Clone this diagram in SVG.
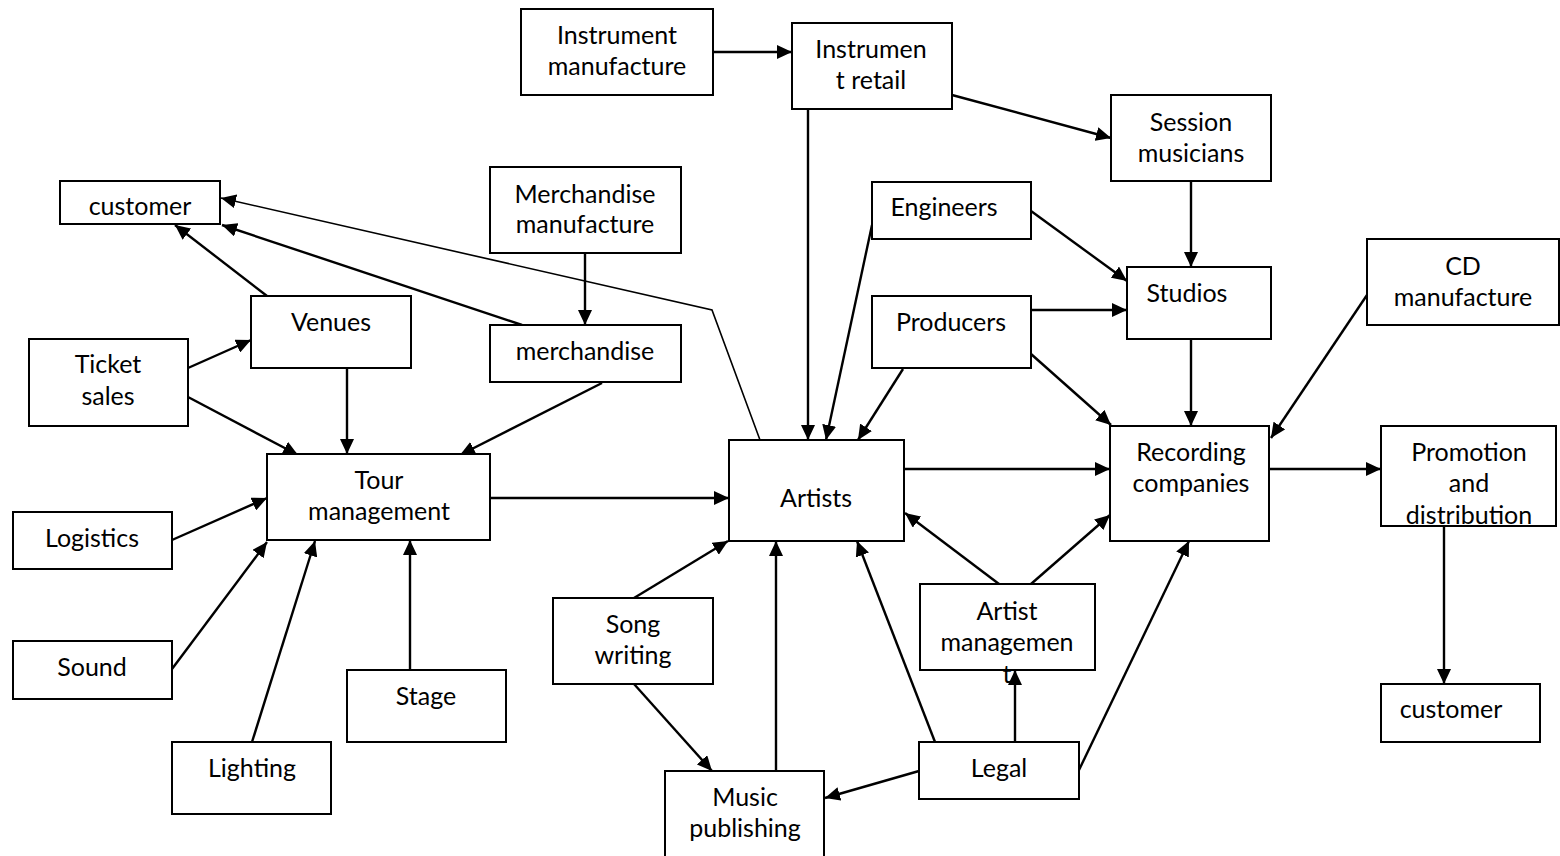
<svg xmlns="http://www.w3.org/2000/svg" width="1560" height="856" viewBox="0 0 1560 856">
<style>
rect.b{fill:#fff;stroke:#000;stroke-width:2}
text{font-family:Lato,"Open Sans","Liberation Sans",sans-serif;font-size:25px;fill:#000;text-anchor:middle}
.c line,.c polyline{stroke:#000;stroke-width:2.4;fill:none}
.c .thin{stroke-width:1.6}
.c .a{marker-end:url(#ah)}
</style>
<defs>
<marker id="ah" markerUnits="userSpaceOnUse" markerWidth="16" markerHeight="14" refX="15" refY="7" orient="auto" viewBox="0 0 16 14">
<path d="M0,0 L15,7 L0,14 Z" fill="#000"/>
</marker>
</defs>
<rect width="1560" height="856" fill="#fff"/>
<g class="c" id="connectors">
<line class="a" x1="713" y1="52" x2="792" y2="52"/>
<line class="a" x1="952" y1="95" x2="1111" y2="138"/>
<line class="a" x1="808" y1="109" x2="808" y2="440"/>
<line class="a" x1="1191" y1="181" x2="1191" y2="267"/>
<line class="a" x1="1031" y1="211" x2="1127" y2="281"/>
<line class="a" x1="1031" y1="310" x2="1127" y2="310"/>
<line class="a" x1="1031" y1="354" x2="1111" y2="425"/>
<line class="a" x1="1191" y1="339" x2="1191" y2="426"/>
<line class="a" x1="1367" y1="295" x2="1271" y2="438"/>
<line class="a" x1="1269" y1="469" x2="1381" y2="469"/>
<line class="a" x1="1444" y1="526" x2="1444" y2="684"/>
<line class="a" x1="872" y1="225" x2="826" y2="440"/>
<line class="a" x1="903" y1="369" x2="858" y2="440"/>
<line class="a" x1="904" y1="469" x2="1110" y2="469"/>
<line class="a" x1="490" y1="498" x2="729" y2="498"/>
<line class="a" x1="634" y1="598" x2="728" y2="541"/>
<line class="a" x1="634" y1="684" x2="712" y2="771"/>
<line class="a" x1="776" y1="771" x2="776" y2="541"/>
<line class="a" x1="919" y1="771" x2="825" y2="798"/>
<line class="a" x1="935" y1="742" x2="857" y2="541"/>
<line class="a" x1="1015" y1="742" x2="1015" y2="670"/>
<line class="a" x1="999" y1="584" x2="905" y2="513"/>
<line class="a" x1="1031" y1="584" x2="1110" y2="515"/>
<line class="a" x1="1079" y1="770" x2="1189" y2="541"/>
<polyline class="a thin" points="760,440 712,310 221,198"/>
<line class="a" x1="522" y1="325" x2="222" y2="225"/>
<line class="a" x1="267" y1="296" x2="175" y2="225"/>
<line class="a" x1="585" y1="253" x2="585" y2="325"/>
<line class="a" x1="602" y1="383" x2="460" y2="455"/>
<line class="a" x1="188" y1="368" x2="251" y2="340"/>
<line class="a" x1="188" y1="397" x2="298" y2="455"/>
<line class="a" x1="347" y1="368" x2="347" y2="454"/>
<line class="a" x1="172" y1="540" x2="267" y2="498"/>
<line class="a" x1="172" y1="669" x2="267" y2="542"/>
<line class="a" x1="252" y1="742" x2="315" y2="541"/>
<line class="a" x1="410" y1="670" x2="410" y2="540"/>
</g>
<g id="customer-left"><rect class="b" x="60" y="181" width="160" height="43"/><text x="140" y="215">customer</text></g>
<g id="venues"><rect class="b" x="251" y="296" width="160" height="72"/><text x="331" y="331">Venues</text></g>
<g id="ticket-sales"><rect class="b" x="29" y="339" width="159" height="87"/><text x="108" y="373">Ticket</text><text x="108" y="405">sales</text></g>
<g id="tour-management"><rect class="b" x="267" y="454" width="223" height="86"/><text x="379" y="489">Tour</text><text x="379" y="520">management</text></g>
<g id="logistics"><rect class="b" x="13" y="512" width="159" height="57"/><text x="92" y="547">Logistics</text></g>
<g id="sound"><rect class="b" x="13" y="641" width="159" height="58"/><text x="92" y="676">Sound</text></g>
<g id="lighting"><rect class="b" x="172" y="742" width="159" height="72"/><text x="252" y="777">Lighting</text></g>
<g id="stage"><rect class="b" x="347" y="670" width="159" height="72"/><text x="426" y="705">Stage</text></g>
<g id="instrument-manufacture"><rect class="b" x="521" y="9" width="192" height="86"/><text x="617" y="44">Instrument</text><text x="617" y="75">manufacture</text></g>
<g id="instrument-retail"><rect class="b" x="792" y="23" width="160" height="86"/><text x="871" y="58">Instrumen</text><text x="871" y="89">t retail</text></g>
<g id="merchandise-manufacture"><rect class="b" x="490" y="167" width="191" height="86"/><text x="585" y="203">Merchandise</text><text x="585" y="233">manufacture</text></g>
<g id="merchandise"><rect class="b" x="490" y="325" width="191" height="57"/><text x="585" y="360">merchandise</text></g>
<g id="engineers"><rect class="b" x="872" y="182" width="159" height="57"/><text x="944" y="216">Engineers</text></g>
<g id="producers"><rect class="b" x="872" y="296" width="159" height="72"/><text x="951" y="331">Producers</text></g>
<g id="session-musicians"><rect class="b" x="1111" y="95" width="160" height="86"/><text x="1191" y="131">Session</text><text x="1191" y="162">musicians</text></g>
<g id="studios"><rect class="b" x="1127" y="267" width="144" height="72"/><text x="1187" y="302">Studios</text></g>
<g id="cd-manufacture"><rect class="b" x="1367" y="239" width="192" height="86"/><text x="1463" y="275">CD</text><text x="1463" y="306">manufacture</text></g>
<g id="recording-companies"><rect class="b" x="1110" y="426" width="159" height="115"/><text x="1191" y="461">Recording</text><text x="1191" y="492">companies</text></g>
<g id="promotion-distribution"><rect class="b" x="1381" y="426" width="175" height="100"/><text x="1469" y="461">Promotion</text><text x="1469" y="492">and</text><text x="1469" y="524">distribution</text></g>
<g id="customer-right"><rect class="b" x="1381" y="684" width="159" height="58"/><text x="1451" y="718">customer</text></g>
<g id="artists"><rect class="b" x="729" y="440" width="175" height="101"/><text x="816" y="507">Artists</text></g>
<g id="song-writing"><rect class="b" x="553" y="598" width="160" height="86"/><text x="633" y="633">Song</text><text x="633" y="664">writing</text></g>
<g id="music-publishing"><rect class="b" x="665" y="771" width="159" height="100"/><text x="745" y="806">Music</text><text x="745" y="837">publishing</text></g>
<g id="legal"><rect class="b" x="919" y="742" width="160" height="57"/><text x="999" y="777">Legal</text></g>
<g id="artist-management"><rect class="b" x="920" y="584" width="175" height="86"/><text x="1007" y="620">Artist</text><text x="1007" y="651">managemen</text><text x="1007" y="683">t</text></g>
</svg>
